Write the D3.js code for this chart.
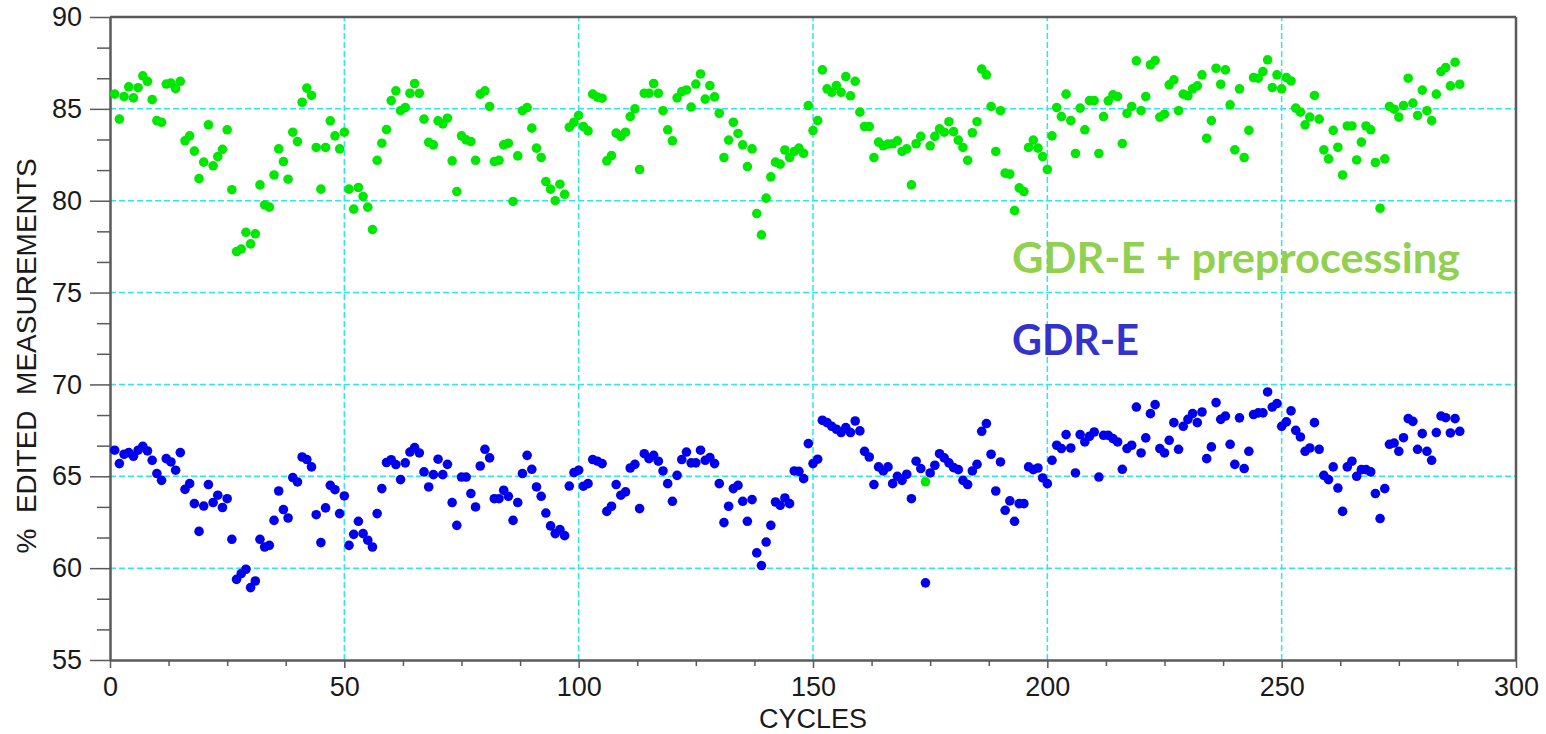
<!DOCTYPE html>
<html>
<head>
<meta charset="utf-8">
<script src="https://cdn.jsdelivr.net/npm/d3@7"></script>
<style>
body { margin: 0; background: #fff; }
svg { display: block; }
</style>
</head>
<body>
<svg></svg>
<script>
// cycle number of the first point in each series (one point per cycle)
var firstCycle = 1;

var gdrePre = [
 85.8, 84.44, 85.67, 86.2, 85.6, 86.15, 86.8, 86.5, 85.5, 84.36,
 84.27, 86.35, 86.4, 86.1, 86.5, 83.26, 83.53, 82.7, 81.2, 82.1,
 84.13, 81.9, 82.4, 82.8, 83.86, 80.6, 77.23, 77.37, 78.28, 77.65,
 78.2, 80.86, 79.77, 79.65, 81.4, 82.82, 82.13, 81.17, 83.73, 83.22,
 85.36, 86.13, 85.73, 82.9, 80.63, 82.9, 84.35, 83.53, 82.82, 83.73,
 80.63, 79.54, 80.72, 80.23, 79.65, 78.43, 82.2, 83.13, 83.87, 85.45,
 85.98, 84.9, 85.07, 85.85, 86.38, 85.85, 84.44, 83.18, 83.04, 84.35,
 84.18, 84.49, 82.17, 80.5, 83.53, 83.31, 83.22, 82.2, 85.8, 85.98,
 85.13, 82.13, 82.2, 83.04, 83.13, 79.96, 82.44, 84.9, 85.07, 83.95,
 82.86, 82.35, 81.04, 80.63, 80.0, 80.9, 80.35, 84.0, 84.27, 84.64,
 84.04, 83.8, 85.8, 85.64, 85.58, 82.17, 82.46, 83.68, 83.5, 83.73,
 84.58, 85.0, 81.7, 85.85, 85.85, 86.38, 85.85, 84.9, 83.86, 83.26,
 85.6, 85.94, 86.03, 85.1, 86.35, 86.9, 85.53, 86.27, 85.65, 84.76,
 82.35, 83.3, 84.27, 83.66, 83.04, 81.86, 82.82, 79.3, 78.14, 80.14,
 81.3, 82.1, 81.99, 82.76, 82.35, 82.68, 82.86, 82.58, 85.18, 83.82,
 84.36, 87.12, 86.09, 85.9, 86.27, 85.9, 86.76, 85.71, 86.5, 84.82,
 84.04, 84.04, 82.35, 83.19, 82.99, 83.08, 83.1, 83.26, 82.68, 82.82,
 80.86, 83.1, 83.5, 64.7, 82.99, 83.5, 83.91, 83.73, 84.3, 83.76,
 83.3, 82.9, 82.2, 83.7, 84.3, 87.16, 86.85, 85.13, 82.68, 84.9,
 81.5, 81.45, 79.46, 80.7, 80.5, 82.9, 83.3, 82.86, 82.4, 81.7,
 83.53, 85.07, 84.58, 85.8, 84.36, 82.57, 85.04, 83.86, 85.45, 85.45,
 82.57, 84.58, 85.44, 85.76, 85.67, 83.11, 84.76, 85.13, 87.61, 84.9,
 85.67, 87.4, 87.63, 84.55, 84.71, 86.31, 86.58, 84.9, 85.8, 85.71,
 86.09, 86.25, 86.85, 83.4, 84.36, 87.21, 86.34, 87.12, 85.22, 82.77,
 86.09, 82.35, 83.83, 86.7, 86.67, 87.03, 87.67, 86.16, 86.85, 86.09,
 86.7, 86.52, 85.04, 84.82, 84.13, 84.55, 85.73, 84.44, 82.77, 82.28,
 83.83, 82.91, 81.4, 84.07, 84.07, 82.22, 83.19, 84.07, 83.86, 82.08,
 79.59, 82.28, 85.13, 84.98, 84.55, 85.18, 86.67, 85.31, 84.64, 86.02,
 84.9, 84.36, 85.8, 87.03, 87.25, 86.25, 87.54, 86.34
];

var gdre = [
 66.42, 65.69, 66.2, 66.29, 66.09, 66.42, 66.63, 66.38, 65.87, 65.15,
 64.78, 65.96, 65.78, 65.33, 66.29, 64.29, 64.6, 63.51, 62.0, 63.38,
 64.55, 63.57, 63.97, 63.3, 63.78, 61.57, 59.39, 59.7, 59.94, 58.94,
 59.3, 61.57, 61.15, 61.24, 62.6, 64.2, 63.19, 62.73, 64.93, 64.69,
 66.05, 65.91, 65.51, 62.91, 61.39, 63.28, 64.51, 64.27, 62.97, 63.93,
 61.24, 61.84, 62.55, 61.88, 61.52, 61.15, 62.97, 64.33, 65.75, 65.9,
 65.64, 64.82, 65.73, 66.32, 66.56, 66.27, 65.24, 64.42, 65.09, 65.93,
 65.09, 65.65, 63.57, 62.33, 64.96, 64.96, 64.06, 63.33, 65.56, 66.47,
 66.0, 63.78, 63.78, 64.24, 63.91, 62.6, 63.57, 65.15, 66.14, 65.38,
 64.42, 63.91, 63.0, 62.3, 61.88, 62.1, 61.77, 64.47, 65.2, 65.33,
 64.46, 64.6, 65.91, 65.82, 65.69, 63.09, 63.37, 64.55, 63.97, 64.15,
 65.45, 65.65, 63.24, 66.23, 65.96, 66.14, 65.82, 65.29, 64.6, 63.64,
 65.05, 65.91, 66.32, 65.73, 65.73, 66.42, 65.87, 66.02, 65.69, 64.6,
 62.48, 63.37, 64.33, 64.51, 63.64, 62.55, 63.73, 60.83, 60.14, 61.42,
 62.33, 63.6, 63.42, 63.82, 63.51, 65.29, 65.27, 64.87, 66.78, 65.69,
 65.93, 68.05, 67.92, 67.72, 67.56, 67.38, 67.65, 67.38, 68.01, 67.47,
 66.36, 66.05, 64.55, 65.51, 65.29, 65.51, 64.6, 65.0, 64.78, 65.11,
 63.78, 65.82, 65.42, 59.2, 65.18, 65.6, 66.23, 66.0, 65.73, 65.47,
 65.36, 64.78, 64.55, 65.29, 65.65, 67.45, 67.87, 66.2, 64.2, 65.78,
 63.15, 63.66, 62.55, 63.51, 63.51, 65.51, 65.36, 65.45, 64.91, 64.6,
 65.87, 66.69, 66.51, 67.27, 66.54, 65.18, 67.27, 66.87, 67.18, 67.41,
 64.96, 67.23, 67.23, 67.05, 66.87, 65.38, 66.51, 66.69, 68.77, 66.27,
 67.09, 68.41, 68.9, 66.51, 66.27, 66.96, 67.92, 66.47, 67.72, 68.1,
 68.41, 67.92, 68.5, 65.96, 66.6, 69.01, 68.1, 68.28, 66.74, 65.65,
 68.18, 65.42, 66.36, 68.36, 68.45, 68.45, 69.59, 68.77, 68.96, 67.72,
 67.96, 68.56, 67.5, 67.14, 66.36, 66.54, 67.92, 66.47, 65.05, 64.82,
 65.51, 64.36, 63.09, 65.51, 65.82, 65.0, 65.36, 65.36, 65.24, 64.06,
 62.7, 64.33, 66.74, 66.81, 66.36, 67.1, 68.14, 67.99, 66.47, 67.32,
 66.36, 65.87, 67.38, 68.28, 68.19, 67.36, 68.14, 67.45
];

var xTicks = [0, 50, 100, 150, 200, 250, 300];
var yTicks = [55, 60, 65, 70, 75, 80, 85, 90];
var xGrid = [50, 100, 150, 200, 250];
var yGrid = [60, 65, 70, 75, 80, 85];
var seriesNames = ["GDR-E + preprocessing", "GDR-E"];

var svgWidth = 1546, svgHeight = 734;
var margin = {top: 17, right: 30, bottom: 74, left: 110};

var svg = d3.select("svg")
  .attr("width", svgWidth)
  .attr("height", svgHeight);

var x = d3.scaleLinear().domain([0, 300]).range([margin.left, svgWidth - margin.right]);
var y = d3.scaleLinear().domain([55, 90]).range([svgHeight - margin.bottom, margin.top]);

var axisColor = "#5a5a5a";
var gridColor = "#2ee6f2";

// grid
svg.append("g").selectAll("line")
  .data(yGrid)
  .enter().append("line")
  .attr("x1", x(0)).attr("x2", x(300))
  .attr("y1", function(d) { return y(d); })
  .attr("y2", function(d) { return y(d); })
  .attr("stroke", gridColor)
  .attr("stroke-width", 1.5)
  .attr("stroke-dasharray", "6,3");

svg.append("g").selectAll("line")
  .data(xGrid)
  .enter().append("line")
  .attr("y1", y(55)).attr("y2", y(90))
  .attr("x1", function(d) { return x(d); })
  .attr("x2", function(d) { return x(d); })
  .attr("stroke", gridColor)
  .attr("stroke-width", 1.5)
  .attr("stroke-dasharray", "6,3");

// minor ticks
var xMinor = d3.range(0, 300.01, 12.5).filter(function(d) { return d % 50 !== 0; });
var yMinor = d3.range(55, 90.01, 5 / 3).filter(function(d) { return Math.abs(d / 5 - Math.round(d / 5)) > 0.01; });

svg.append("g")
  .attr("transform", "translate(0," + y(55) + ")")
  .call(d3.axisBottom(x).tickValues(xMinor).tickSize(6).tickFormat(""))
  .call(function(g) { g.select(".domain").remove(); })
  .selectAll("line").attr("stroke", axisColor).attr("stroke-width", 1.5);

svg.append("g")
  .attr("transform", "translate(" + x(0) + ",0)")
  .call(d3.axisLeft(y).tickValues(yMinor).tickSize(13).tickFormat(""))
  .call(function(g) { g.select(".domain").remove(); })
  .selectAll("line").attr("stroke", axisColor).attr("stroke-width", 1.5);

// main axes
var xAxis = svg.append("g")
  .attr("transform", "translate(0," + y(55) + ")")
  .call(d3.axisBottom(x).tickValues(xTicks).tickSize(8).tickSizeOuter(0).tickPadding(9));

var yAxis = svg.append("g")
  .attr("transform", "translate(" + x(0) + ",0)")
  .call(d3.axisLeft(y).tickValues(yTicks).tickSize(20).tickSizeOuter(0).tickPadding(8));

[xAxis, yAxis].forEach(function(g) {
  g.select(".domain").attr("stroke", axisColor).attr("stroke-width", 2.5);
  g.selectAll(".tick line").attr("stroke", axisColor).attr("stroke-width", 1.5);
  g.selectAll(".tick text")
    .attr("fill", "#1a1a1a")
    .style("font-family", "'Liberation Sans', Arial, sans-serif")
    .style("font-size", "27px");
});

// frame top and right
svg.append("line")
  .attr("x1", x(0)).attr("x2", x(300))
  .attr("y1", y(90)).attr("y2", y(90))
  .attr("stroke", axisColor).attr("stroke-width", 2.5);
svg.append("line")
  .attr("x1", x(300)).attr("x2", x(300))
  .attr("y1", y(90)).attr("y2", y(55))
  .attr("stroke", axisColor).attr("stroke-width", 2.5);

// axis titles
svg.append("text")
  .text("CYCLES")
  .attr("x", (x(0) + x(300)) / 2)
  .attr("y", 728)
  .attr("text-anchor", "middle")
  .attr("fill", "#1a1a1a")
  .style("font-family", "'Liberation Sans', Arial, sans-serif")
  .style("font-size", "27px");

svg.append("text")
  .text("%  EDITED  MEASUREMENTS")
  .attr("transform", "translate(36,356) rotate(-90)")
  .attr("text-anchor", "middle")
  .attr("fill", "#1a1a1a")
  .style("white-space", "pre")
  .style("font-family", "'Liberation Sans', Arial, sans-serif")
  .style("font-size", "28px");

// points
svg.append("g").selectAll("circle")
  .data(gdre)
  .enter().append("circle")
  .attr("cx", function(d, i) { return x(firstCycle + i); })
  .attr("cy", function(d) { return y(d); })
  .attr("r", 4.8)
  .attr("fill", "#0000ee");

svg.append("g").selectAll("circle")
  .data(gdrePre)
  .enter().append("circle")
  .attr("cx", function(d, i) { return x(firstCycle + i); })
  .attr("cy", function(d) { return y(d); })
  .attr("r", 4.8)
  .attr("fill", "#00e800");

// series labels
svg.append("text")
  .text(seriesNames[0])
  .attr("x", 1012)
  .attr("y", 273)
  .attr("fill", "#92d050")
  .attr("textLength", 448)
  .attr("lengthAdjust", "spacingAndGlyphs")
  .style("font-family", "Lato, 'Open Sans', sans-serif")
  .style("font-weight", "bold")
  .style("font-size", "42px");

svg.append("text")
  .text(seriesNames[1])
  .attr("x", 1012)
  .attr("y", 355)
  .attr("fill", "#3333cc")
  .attr("textLength", 127)
  .attr("lengthAdjust", "spacingAndGlyphs")
  .style("font-family", "Lato, 'Open Sans', sans-serif")
  .style("font-weight", "bold")
  .style("font-size", "42px");
</script>
</body>
</html>
